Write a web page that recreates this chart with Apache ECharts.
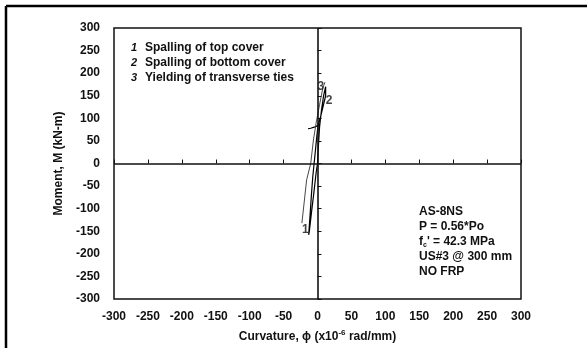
<!DOCTYPE html>
<html>
<head>
<meta charset="utf-8">
<script src="https://cdn.jsdelivr.net/npm/echarts@6/dist/echarts.min.js"></script>
<style>
  html, body { margin: 0; padding: 0; background: #fff; }
  #chart { width: 587px; height: 348px; }
</style>
</head>
<body>
<div id="chart"></div>
<script>
// Moment–curvature response, specimen AS-8NS
const ticksX = [-300, -250, -200, -150, -100, -50, 0, 50, 100, 150, 200, 250, 300];
const ticksY = [-300, -250, -200, -150, -100, -50, 0, 50, 100, 150, 200, 250, 300];

// main loading path (curvature x10^-6 rad/mm, moment kN-m)
const loopCurvature = [0, 1, 3, 6, 9, 12, 14, 12, 8, 4, 1, -1, -3, -5, -7, -9, -11, -13, -12, -9, -5, -2, 0, 1, 2, 3, 1, -2, -6, -10, -14];
const loopMoment    = [0, 30, 80, 120, 150, 170, 174, 150, 125, 100, 88, 60, 30, 0, -30, -70, -115, -158, -150, -110, -60, -20, 0, 30, 60, 88, 85, 82, 80, 78, 77];

// reloading branch
const branchCurvature = [-23, -16, -10, -6, -2, 3, 8, 11];
const branchMoment    = [-132, -36, 0, 52, 90, 130, 168, 180];

// damage event markers
const eventIds       = ['1', '2', '3'];
const eventCurvature = [-18, 17, 5];
const eventMoment    = [-147, 138, 171];
const eventNames     = ['Spalling of top cover', 'Spalling of bottom cover', 'Yielding of transverse ties'];

const specimenNotes = ['AS-8NS', 'P = 0.56*Po', '{f|f}{sub|c}{f|\' = 42.3 MPa}', 'US#3 @ 300 mm', 'NO FRP'];

const FONT = '"Liberation Sans", Arial, Helvetica, sans-serif';
const INK = '#111';

const zip = (a, b) => a.map((v, i) => [v, b[i]]);

const chart = echarts.init(document.getElementById('chart'), null, { renderer: 'canvas' });

const legendGraphics = [];
eventIds.forEach((id, i) => {
  legendGraphics.push({
    type: 'text', left: 131, top: 42 + i * 15,
    style: { text: id, font: 'italic bold 11px ' + FONT, fill: INK }
  });
  legendGraphics.push({
    type: 'text', left: 145, top: 42 + i * 15,
    style: { text: eventNames[i], font: 'bold 12px ' + FONT, fill: INK }
  });
});

const noteGraphics = specimenNotes.map((t, i) => ({
  type: 'text', left: 419, top: 206 + i * 15,
  style: {
    text: t,
    font: 'bold 12px ' + FONT,
    fill: INK,
    rich: {
      f: { font: 'bold 12px ' + FONT, fill: INK },
      sub: { font: 'bold 7px ' + FONT, fill: INK, padding: [6, 0, 0, 0] }
    }
  }
}));

chart.setOption({
  animation: false,
  backgroundColor: '#fff',
  grid: {
    left: 114, top: 28, width: 407, height: 271,
    show: true, borderColor: INK, borderWidth: 1.5, backgroundColor: 'transparent'
  },
  xAxis: {
    type: 'value', min: -300, max: 300, interval: 50,
    axisLine: { show: false },
    axisTick: { show: true, inside: true, length: 4, lineStyle: { color: INK, width: 1 } },
    splitLine: { show: false },
    axisLabel: {
      color: INK, fontFamily: FONT, fontWeight: 'bold', fontSize: 12, margin: 12,
      customValues: ticksX
    },
    name: '{t|Curvature, ϕ (x10}{s|-6}{t| rad/mm)}',
    nameLocation: 'middle', nameGap: 30,
    nameTextStyle: {
      rich: {
        t: { fontFamily: FONT, fontWeight: 'bold', fontSize: 12, color: INK },
        s: { fontFamily: FONT, fontWeight: 'bold', fontSize: 8, color: INK, padding: [0, 0, 8, 0] }
      }
    }
  },
  yAxis: {
    type: 'value', min: -300, max: 300, interval: 50,
    axisLine: { show: false },
    axisTick: { show: true, inside: true, length: 4, lineStyle: { color: INK, width: 1 } },
    splitLine: { show: false },
    axisLabel: {
      color: INK, fontFamily: FONT, fontWeight: 'bold', fontSize: 12, margin: 14,
      customValues: ticksY
    },
    name: 'Moment, M (kN-m)',
    nameLocation: 'middle', nameGap: 47,
    nameTextStyle: { fontFamily: FONT, fontWeight: 'bold', fontSize: 12, color: INK }
  },
  series: [
    {
      type: 'line', data: zip(loopCurvature, loopMoment), showSymbol: false, symbol: 'none',
      lineStyle: { color: '#000', width: 1.2 },
      markLine: {
        silent: true, symbol: 'none', label: { show: false },
        lineStyle: { color: INK, width: 1.6, type: 'solid' },
        data: [{ xAxis: 0 }, { yAxis: 0 }]
      }
    },
    {
      type: 'line', data: zip(branchCurvature, branchMoment), showSymbol: false, symbol: 'none',
      lineStyle: { color: '#333', width: 0.9 }
    },
    {
      type: 'scatter', symbolSize: 0,
      data: eventIds.map((id, i) => ({ name: id, value: [eventCurvature[i], eventMoment[i]] })),
      label: {
        show: true, position: 'inside', formatter: p => p.name,
        fontFamily: FONT, fontWeight: 'bold', fontSize: 12, color: INK
      }
    }
  ],
  graphic: [
    { type: 'line', shape: { x1: 6, y1: 6, x2: 587, y2: 6 }, style: { stroke: '#000', lineWidth: 2.5 } },
    { type: 'line', shape: { x1: 6, y1: 6, x2: 6, y2: 348 }, style: { stroke: '#000', lineWidth: 2.5 } },
    ...legendGraphics,
    ...noteGraphics
  ]
});
</script>
</body>
</html>
